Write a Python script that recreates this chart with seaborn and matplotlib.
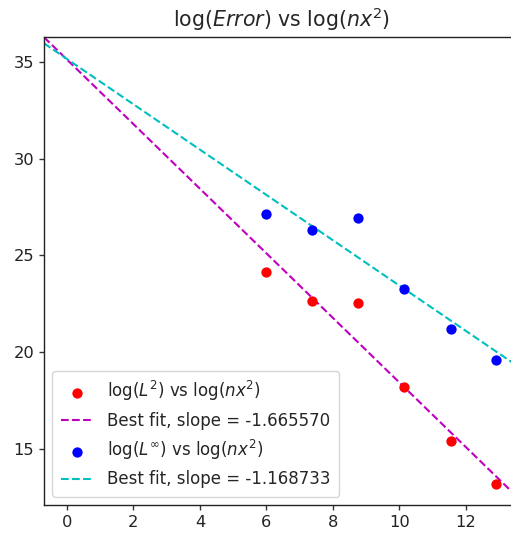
import numpy as np
import pandas as pd
import matplotlib
matplotlib.use("Agg")
import matplotlib.pyplot as plt
import seaborn as sns

# log(nx^2) for the grid refinements
log_nx2 = [5.99, 7.38, 8.76, 10.15, 11.54, 12.92]
# log of the L2 and L-infinity errors
log_l2 = [24.15, 22.63, 22.53, 18.20, 15.43, 13.20]
log_linf = [27.16, 26.34, 26.91, 23.28, 21.20, 19.62]
# fitted slopes
slope_l2 = -1.665570
slope_linf = -1.168733

x_limits = (-0.69, 13.6)
y_limits = (12.13, 36.27)

sns.set_style("ticks")
plt.rcParams["font.family"] = ["DejaVu Sans"]
plt.rcParams["mathtext.fontset"] = "dejavusans"

fig = plt.figure(figsize=(5.11, 5.37), dpi=100)
W, H = 511, 537
ax = fig.add_axes([44 / W, 32 / H, 475 / W, 468 / H])


def fit_line(x, y, slope):
    x = np.asarray(x)
    y = np.asarray(y)
    intercept = y.mean() - slope * x.mean()
    xs = np.array(x_limits)
    return pd.DataFrame({"x": xs, "y": intercept + slope * xs})


pts_l2 = pd.DataFrame({"x": log_nx2, "y": log_l2})
pts_linf = pd.DataFrame({"x": log_nx2, "y": log_linf})
line_l2 = fit_line(log_nx2, log_l2, slope_l2)
line_linf = fit_line(log_nx2, log_linf, slope_linf)

sns.scatterplot(data=pts_l2, x="x", y="y", color="r", s=55, linewidth=0,
                ax=ax, label=r"$\log(L^2)$ vs $\log(nx^2)$", zorder=3)
sns.lineplot(data=line_l2, x="x", y="y", color="m", linestyle="--", lw=1.5,
             ax=ax, label=f"Best fit, slope = {slope_l2:f}")
sns.scatterplot(data=pts_linf, x="x", y="y", color="b", s=55, linewidth=0,
                ax=ax, label=r"$\log(L^\infty)$ vs $\log(nx^2)$", zorder=3)
sns.lineplot(data=line_linf, x="x", y="y", color="c", linestyle="--", lw=1.5,
             ax=ax, label=f"Best fit, slope = {slope_linf:f}")

ax.set_xlim(*x_limits)
ax.set_ylim(*y_limits)
ax.set_xticks([0, 2, 4, 6, 8, 10, 12])
ax.set_yticks([15, 20, 25, 30, 35])
ax.set_xlabel("")
ax.set_ylabel("")
ax.tick_params(labelsize=11.7, length=3.5, width=1, color="#333333", labelcolor="#222222")
for sp in ax.spines.values():
    sp.set_color("#222222")
    sp.set_linewidth(1.0)
ax.set_title(r"$\log(Error)$ vs $\log(nx^2)$", fontsize=14.8, pad=7)
ax.legend(loc="lower left", fontsize=12, frameon=True, borderpad=0.5)

fig.savefig("out.png", dpi=100)
